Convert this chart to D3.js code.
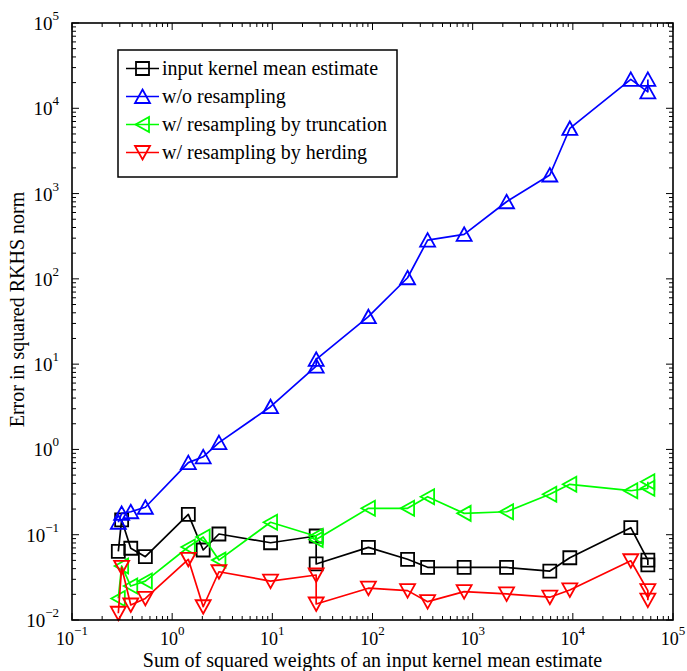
<!DOCTYPE html>
<html><head><meta charset="utf-8">
<script src="https://cdn.jsdelivr.net/npm/d3@7"></script>
<style>
html,body{margin:0;padding:0;background:#fff;}
svg{display:block;}
text{font-family:"Liberation Serif","Times New Roman",serif;fill:#000;}
</style></head>
<body>
<svg id="chart" width="687" height="671"></svg>
<script>
// ---- data ----
const xValues = [0.29, 0.313, 0.386, 0.54, 1.45, 2.04, 2.93, 9.6, 27.4, 27.4, 91, 224, 355, 822, 2180, 5890, 9330, 37900, 56100, 56100];
const inputKernel = [0.0638, 0.149, 0.0694, 0.0552, 0.173, 0.0662, 0.102, 0.0805, 0.0966, 0.0454, 0.0711, 0.0515, 0.0415, 0.0415, 0.0413, 0.0375, 0.0537, 0.121, 0.0504, 0.0442];
const noResampling = [0.14, 0.178, 0.186, 0.21, 0.70, 0.82, 1.2, 3.17, 9.5, 11.4, 36, 103, 285, 333, 802, 1650, 5800, 21800, 15600, 21800];
const truncation = [0.0179, 0.043, 0.025, 0.0286, 0.0718, 0.094, 0.0504, 0.14, 0.096, 0.088, 0.204, 0.204, 0.279, 0.178, 0.186, 0.298, 0.39, 0.328, 0.35, 0.418];
const herding = [0.012, 0.0415, 0.015, 0.0179, 0.0515, 0.0143, 0.0368, 0.0286, 0.0337, 0.0154, 0.0236, 0.0221, 0.0164, 0.0215, 0.0202, 0.0185, 0.0225, 0.0495, 0.0221, 0.0171];
const seriesNames = ["input kernel mean estimate", "w/o resampling", "w/ resampling by truncation", "w/ resampling by herding"];
const xTickExps = [-1, 0, 1, 2, 3, 4, 5];
const yTickExps = [-2, -1, 0, 1, 2, 3, 4, 5];
const xLabel = "Sum of squared weights of an input kernel mean estimate";
const yLabel = "Error in squared RKHS norm";

// ---- layout ----
const L = 72, R = 673, T = 23, B = 620;
const svg = d3.select("#chart");
const x = d3.scaleLog().domain([0.1, 1e5]).range([L, R]);
const y = d3.scaleLog().domain([0.01, 1e5]).range([B, T]);

const series = [
  {name: seriesNames[0], values: inputKernel, color: "#000000", marker: "square"},
  {name: seriesNames[1], values: noResampling, color: "#0000ff", marker: "up"},
  {name: seriesNames[2], values: truncation, color: "#00ff00", marker: "left"},
  {name: seriesNames[3], values: herding, color: "#ff0000", marker: "down"}
];

const markerPath = {
  square: "M-6.5,-6.5H6.5V6.5H-6.5Z",
  up: "M0,-7L7.5,6.5L-7.5,6.5Z",
  down: "M0,7L7.5,-6.5L-7.5,-6.5Z",
  left: "M-7,0L6.5,-7.5L6.5,7.5Z"
};

// ---- ticks (inside, all four sides) ----
const g = svg.append("g");
function minorVals(lo, hi) {
  const out = [];
  for (let e = lo; e < hi; e++) for (let k = 2; k <= 9; k++) out.push(k * Math.pow(10, e));
  return out;
}
const xMinor = minorVals(-1, 5), yMinor = minorVals(-2, 5);
const tickG = g.append("g").attr("stroke", "#000").attr("stroke-width", 1);
xTickExps.forEach(e => {
  const px = x(Math.pow(10, e));
  tickG.append("line").attr("x1", px).attr("x2", px).attr("y1", B).attr("y2", B - 7);
  tickG.append("line").attr("x1", px).attr("x2", px).attr("y1", T).attr("y2", T + 7);
});
xMinor.forEach(v => {
  const px = x(v);
  tickG.append("line").attr("x1", px).attr("x2", px).attr("y1", B).attr("y2", B - 4);
  tickG.append("line").attr("x1", px).attr("x2", px).attr("y1", T).attr("y2", T + 4);
});
yTickExps.forEach(e => {
  const py = y(Math.pow(10, e));
  tickG.append("line").attr("y1", py).attr("y2", py).attr("x1", L).attr("x2", L + 7);
  tickG.append("line").attr("y1", py).attr("y2", py).attr("x1", R).attr("x2", R - 7);
});
yMinor.forEach(v => {
  const py = y(v);
  tickG.append("line").attr("y1", py).attr("y2", py).attr("x1", L).attr("x2", L + 4);
  tickG.append("line").attr("y1", py).attr("y2", py).attr("x1", R).attr("x2", R - 4);
});

// tick labels
xTickExps.forEach(e => {
  const t = g.append("text").attr("x", x(Math.pow(10, e))).attr("y", 645)
    .attr("text-anchor", "middle").style("font-size", "18px");
  t.append("tspan").text("10");
  t.append("tspan").attr("dy", -10).style("font-size", "13px").text(e < 0 ? "\u2212" + (-e) : String(e));
});
yTickExps.forEach(e => {
  const t = g.append("text").attr("x", 59).attr("y", y(Math.pow(10, e)) + 7)
    .attr("text-anchor", "end").style("font-size", "19px");
  t.append("tspan").text("10");
  t.append("tspan").attr("dy", -10).style("font-size", "13px").text(e < 0 ? "\u2212" + (-e) : String(e));
});

// axis labels
g.append("text").attr("x", (L + R) / 2).attr("y", 667).attr("text-anchor", "middle")
  .style("font-size", "20px").text(xLabel);
g.append("text").attr("transform", `translate(24,${(T + B) / 2 - 12}) rotate(-90)`)
  .attr("text-anchor", "middle").style("font-size", "20px").text(yLabel);

// ---- series ----
const line = d3.line().x(d => x(d[0])).y(d => y(d[1]));
series.forEach(s => {
  const pts = xValues.map((xv, i) => [xv, s.values[i]]);
  const sg = g.append("g");
  sg.append("path").attr("d", line(pts)).attr("fill", "none")
    .attr("stroke", s.color).attr("stroke-width", 1.7).attr("stroke-linejoin", "round");
  sg.selectAll("path.m").data(pts).enter().append("path").attr("class", "m")
    .attr("d", markerPath[s.marker])
    .attr("transform", d => `translate(${x(d[0])},${y(d[1])})`)
    .attr("fill", "none").attr("stroke", s.color).attr("stroke-width", 1.8);
});

// box
g.append("rect").attr("x", L).attr("y", T).attr("width", R - L).attr("height", B - T)
  .attr("fill", "none").attr("stroke", "#000").attr("stroke-width", 1.6);

// ---- legend ----
const lg = g.append("g");
lg.append("rect").attr("x", 118).attr("y", 50).attr("width", 279).attr("height", 127)
  .attr("fill", "#fff").attr("stroke", "#000").attr("stroke-width", 1.5);
series.forEach((s, i) => {
  const yy = 68.5 + i * 28;
  lg.append("line").attr("x1", 126).attr("x2", 159).attr("y1", yy).attr("y2", yy)
    .attr("stroke", s.color).attr("stroke-width", 1.7);
  lg.append("path").attr("d", markerPath[s.marker]).attr("transform", `translate(142.5,${yy})`)
    .attr("fill", "none").attr("stroke", s.color).attr("stroke-width", 1.8);
  lg.append("text").attr("x", 162).attr("y", yy + 6).style("font-size", "20px").text(s.name);
});
</script>
</body></html>
